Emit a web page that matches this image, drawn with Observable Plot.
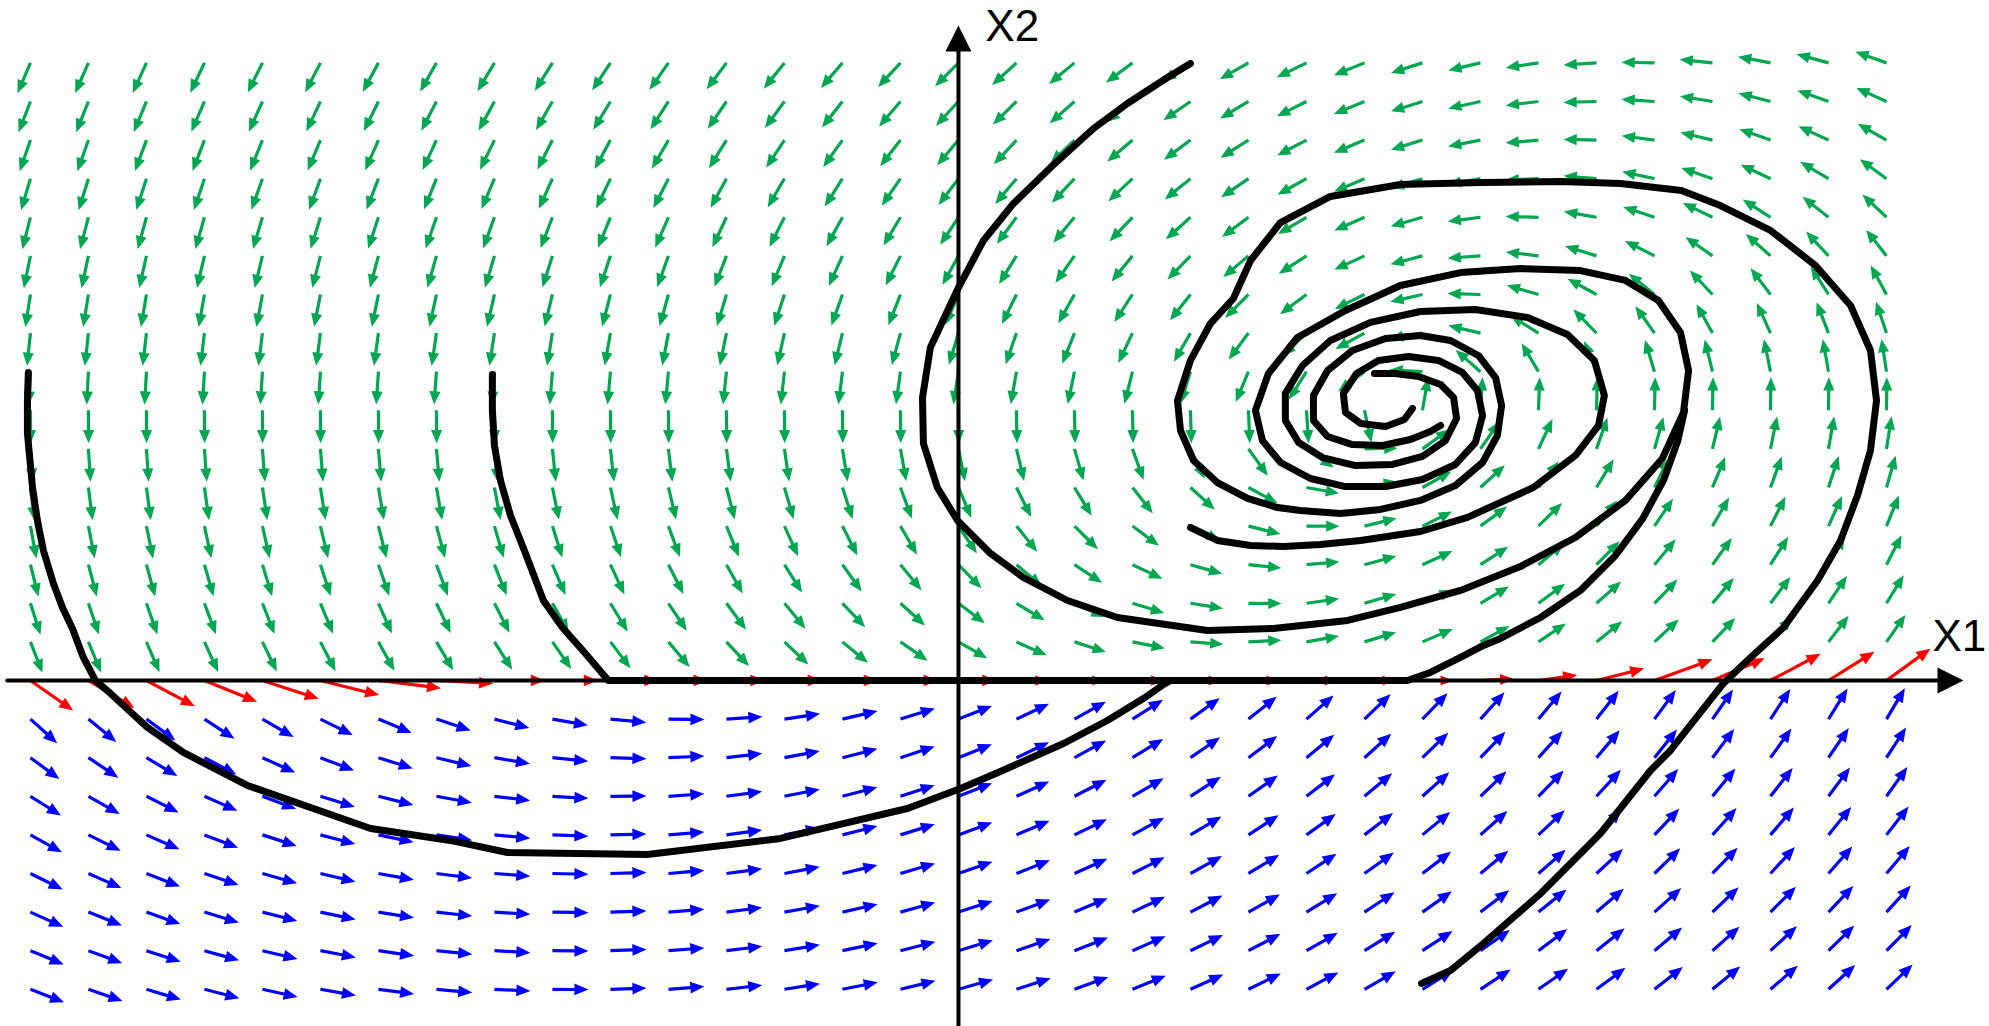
<!DOCTYPE html>
<html><head><meta charset="utf-8">
<script src="https://cdn.jsdelivr.net/npm/d3@7"></script>
<script src="https://cdn.jsdelivr.net/npm/@observablehq/plot@0.6"></script>
<style>html,body{margin:0;padding:0;background:#fff;overflow:hidden}</style>
</head><body><div id="chart"></div>
<script>
const W = 1989, H = 1026;
const xDomain = [-4.129, 4.444];
const yDomain = [-2.241, 4.404];
const gridX1 = d3.range(-4, 4.001, 0.25);
const gridX2 = d3.range(-2, 4.001, 0.25);

// upper system (x2 > 0): stable focus
const upperFocus = [1.871, 1.768];
const upperMatrix = [[0, -0.666], [0.757, -0.363]];
// lower system (x2 < 0)
const lowerDrift = [2.68, -1.66];
const lowerGain = 1.5;
const lowerNull = [-1.716, 0.819, 1.93];
// field on the switching line x2 = 0 (one value per grid column)
const redAngle = [-35,-31,-28,-22,-18,-14,-7,-3, 0,0,0,0,0,0,0,0,0,0,0,0,0,0,0,0,0, 3,8,14,20,23,28,32,36];
const redSpeed = [0.83,0.85,0.87,0.9,0.94,0.96,1.0,0.9, 0.8,0.72,0.76,0.62,0.6,0.59,0.56,0.59,0.6, 0.5,0.47,0.49,0.48,0.48,0.48,0.48,0.48, 0.52,0.62,0.78,0.98,0.9,0.9,0.86,0.86];

const traj1 = [[-4.009,1.995],[-4.013,1.813],[-4.013,1.600],[-3.991,1.250],[-3.970,1.036],[-3.944,0.842],[-3.901,0.628],[-3.862,0.473],[-3.819,0.337],[-3.772,0.149],[-3.72,0],[-3.655,-0.084],[-3.496,-0.304],[-3.341,-0.466],[-3.065,-0.680],[-2.534,-0.959],[-2.190,-1.036],[-1.944,-1.114],[-1.341,-1.127],[-0.767,-1.023],[-0.220,-0.829],[0.009,-0.699],[0.181,-0.589],[0.453,-0.408],[0.642,-0.259],[0.797,-0.117],[0.884,-0.026],[0.914,0]];
const traj2 = [[-2.009,1.982],[-2.009,1.749],[-2.0,1.522],[-1.974,1.295],[-1.931,1.069],[-1.871,0.842],[-1.789,0.518],[-1.707,0.343],[-1.608,0.175],[-1.509,0],[1.935,0],[2.034,0.052],[2.164,0.149],[2.263,0.227],[2.336,0.272],[2.509,0.408],[2.681,0.583],[2.832,0.810],[2.950,1.050],[3.040,1.300],[3.100,1.550],[3.130,1.750]];
const traj3 = [[1.996,-1.962],[2.121,-1.878],[2.263,-1.703],[2.509,-1.380],[2.767,-0.991],[2.983,-0.583],[3.069,-0.453],[3.297,-0.019],[3.414,0.149],[3.556,0.343],[3.703,0.648],[3.802,0.907],[3.875,1.198],[3.931,1.490],[3.957,1.813],[3.931,2.137],[3.845,2.429],[3.694,2.688],[3.500,2.915],[3.284,3.076],[3.116,3.174],[2.853,3.219],[2.595,3.232],[2.250,3.225],[1.905,3.212],[1.603,3.135],[1.388,2.966],[1.259,2.720],[1.185,2.474],[1.086,2.312],[1.0,2.073],[0.944,1.813],[0.957,1.619],[1.013,1.425],[1.116,1.282],[1.246,1.179],[1.375,1.120],[1.474,1.101],[1.647,1.082],[1.819,1.108],[1.991,1.166],[2.142,1.263],[2.259,1.412],[2.323,1.587],[2.341,1.781],[2.315,1.962],[2.241,2.105],[2.121,2.202],[1.991,2.234],[1.841,2.215],[1.698,2.137],[1.591,2.008],[1.530,1.846],[1.530,1.684],[1.591,1.580],[1.698,1.528],[1.828,1.522],[1.948,1.561],[2.034,1.613],[2.078,1.652]];
const traj4 = [[1.0,3.996],[0.901,3.905],[0.728,3.737],[0.582,3.575],[0.397,3.323],[0.237,3.089],[0.108,2.850],[0,2.545],[-0.121,2.157],[-0.155,1.833],[-0.151,1.535],[-0.091,1.250],[-0.004,1.036],[0.138,0.823],[0.280,0.667],[0.470,0.518],[0.685,0.408],[1.073,0.324],[1.358,0.337],[1.677,0.389],[1.905,0.473],[2.164,0.583],[2.422,0.738],[2.659,0.926],[2.875,1.166],[3.034,1.438],[3.125,1.736],[3.147,2.008],[3.112,2.254],[3.017,2.461],[2.875,2.591],[2.681,2.655],[2.422,2.668],[2.164,2.642],[1.905,2.558],[1.668,2.396],[1.461,2.221],[1.336,1.988],[1.280,1.749],[1.310,1.554],[1.388,1.412],[1.517,1.308],[1.668,1.256],[1.841,1.256],[2.0,1.302],[2.142,1.399],[2.228,1.541],[2.259,1.716],[2.237,1.878],[2.172,1.995],[2.069,2.073],[1.940,2.098],[1.810,2.073],[1.716,1.988],[1.659,1.859],[1.668,1.736],[1.733,1.665],[1.841,1.645],[1.922,1.690],[1.957,1.762]];
const traj5 = [[1.0,0.991],[1.116,0.907],[1.259,0.874],[1.401,0.868],[1.560,0.881],[1.733,0.907],[1.991,0.965],[2.194,1.056],[2.478,1.250],[2.659,1.457],[2.759,1.652],[2.784,1.846],[2.741,2.073],[2.625,2.241],[2.453,2.351],[2.228,2.403],[1.991,2.390],[1.776,2.319],[1.603,2.202],[1.483,2.040],[1.409,1.859],[1.409,1.684],[1.466,1.541],[1.569,1.444],[1.711,1.392],[1.871,1.399],[2.0,1.451],[2.099,1.554],[2.147,1.697],[2.134,1.833],[2.078,1.917],[1.983,1.969],[1.884,1.988],[1.793,1.988]];

const axisX1 = [-4.1, 4.332];
const axisX2 = [-2.3, 4.242];
const labels = [{x: 4.198, y: 0.194, text: "X1"}, {x: 0.116, y: 4.139, text: "X2"}];

const kx = W / (xDomain[1] - xDomain[0]);
const ky = H / (yDomain[1] - yDomain[0]);
const deg = 180 / Math.PI;

const green = [], blue = [], red = [];
gridX2.forEach(v => gridX1.forEach((u, i) => {
  if (Math.abs(v) < 1e-9) { red.push({u, v, rot: 90 - redAngle[i], s: redSpeed[i]}); return; }
  let du, dv;
  if (v > 0) {
    const p = u - upperFocus[0], q = v - upperFocus[1];
    du = upperMatrix[0][0] * p + upperMatrix[0][1] * q;
    dv = upperMatrix[1][0] * p + upperMatrix[1][1] * q;
  } else {
    du = lowerDrift[0] + lowerDrift[1] * v;
    dv = lowerGain * (u - (lowerNull[0] + lowerNull[1] * Math.exp(lowerNull[2] * v)));
  }
  const rot = Math.atan2(du * kx, dv * ky) * deg;
  (v > 0 ? green : blue).push({u, v, rot});
}));

const arrowShape = {
  draw(context, l) {
    const hl = Math.min(14, l * 0.4), hw = hl * 0.42, sw = 1.6;
    context.moveTo(-sw, 0);
    context.lineTo(-sw, -(l - hl));
    context.lineTo(-hw, -(l - hl));
    context.lineTo(0, -l);
    context.lineTo(hw, -(l - hl));
    context.lineTo(sw, -(l - hl));
    context.lineTo(sw, 0);
    context.closePath();
  }
};
const headShape = {
  draw(context, l) {
    context.moveTo(-13, 0);
    context.lineTo(0, -l);
    context.lineTo(13, 0);
    context.closePath();
  }
};

const lineOpts = {x: d => d[0], y: d => d[1], stroke: "black", strokeWidth: 7, strokeLinejoin: "round", curve: "linear"};

const chart = Plot.plot({
  width: W, height: H, margin: 0,
  x: {domain: xDomain, axis: null},
  y: {domain: yDomain, axis: null},
  length: {domain: [0, 1], range: [0, 63]},
  style: {background: "white", overflow: "visible"},
  marks: [
    Plot.vector(green, {x: "u", y: "v", rotate: "rot", length: 33, anchor: "start", shape: arrowShape, fill: "#00a651", stroke: "none"}),
    Plot.vector(blue, {x: "u", y: "v", rotate: "rot", length: 36, anchor: "start", shape: arrowShape, fill: "#0000ff", stroke: "none"}),
    Plot.vector(red, {x: "u", y: "v", rotate: "rot", length: "s", anchor: "start", shape: arrowShape, fill: "#ff0000", stroke: "none"}),
    Plot.line([[axisX1[0], 0], [axisX1[1] - 0.1, 0]], {x: d => d[0], y: d => d[1], stroke: "black", strokeWidth: 4}),
    Plot.line([[0, axisX2[0]], [0, axisX2[1] - 0.15]], {x: d => d[0], y: d => d[1], stroke: "black", strokeWidth: 4}),
    Plot.vector([{x: axisX1[1], y: 0, r: 90}, {x: 0, y: axisX2[1], r: 0}], {x: "x", y: "y", rotate: "r", length: 26, anchor: "end", shape: headShape, fill: "black", stroke: "none"}),
    Plot.line(traj1, lineOpts),
    Plot.line(traj2, lineOpts),
    Plot.line(traj3, lineOpts),
    Plot.line(traj4, lineOpts),
    Plot.line(traj5, lineOpts),
    Plot.text(labels, {x: "x", y: "y", text: "text", textAnchor: "start", lineAnchor: "bottom", fontSize: 44, fontFamily: "Liberation Sans, Arial, sans-serif", fill: "black"})
  ]
});
document.getElementById("chart").appendChild(chart);
</script>
</body></html>
